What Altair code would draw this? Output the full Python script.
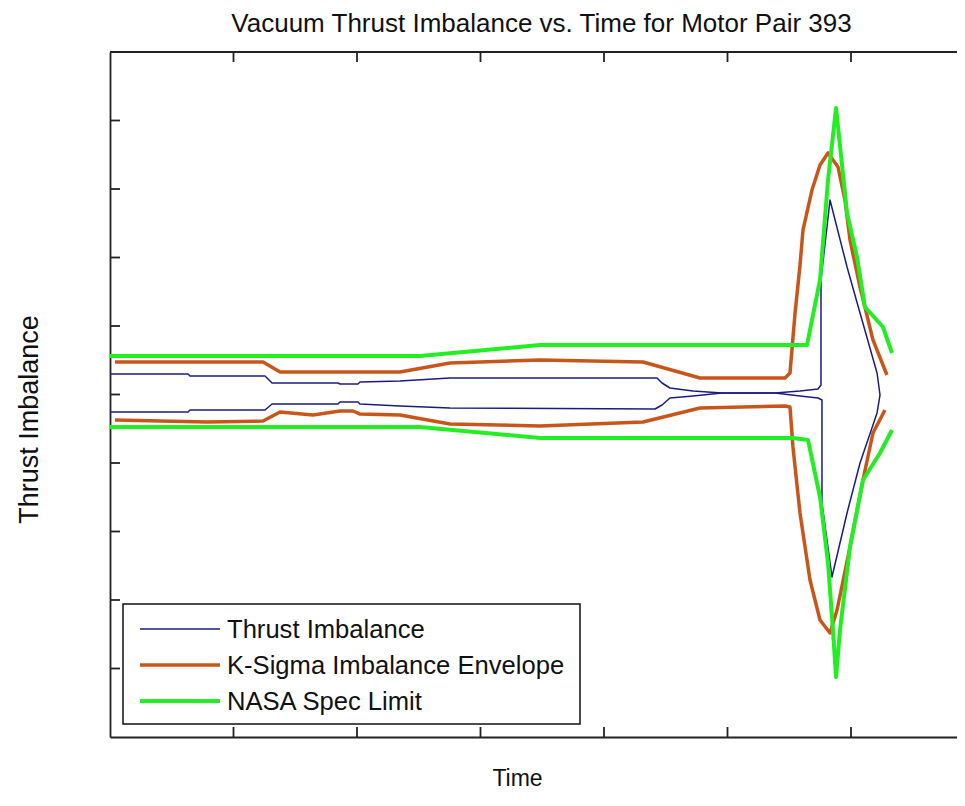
import altair as alt
import pandas as pd

TITLE = "Vacuum Thrust Imbalance vs. Time for Motor Pair 393"
X_TITLE = "Time"
Y_TITLE = "Thrust Imbalance"
LEGEND_LABELS = ["Thrust Imbalance", "K-Sigma Imbalance Envelope", "NASA Spec Limit"]

X_TICKS = [1, 2, 3, 4, 5, 6]
Y_TICKS = [-4, -3, -2, -1, 0, 1, 2, 3, 4]

# Thrust imbalance (upper / lower trace)
blue_up_t = [0, 0.632, 0.648, 1.255, 1.312, 1.846, 1.862, 2.008, 2.024, 2.348, 2.753, 4.429, 4.470,
             4.534, 4.721, 4.955, 5.385, 5.587, 5.733, 5.757, 5.757, 5.830, 5.968, 6.073, 6.211, 6.235]
blue_up_v = [0.299, 0.299, 0.270, 0.270, 0.168, 0.168, 0.153, 0.153, 0.182, 0.197, 0.241, 0.241, 0.168,
             0.095, 0.051, 0.022, 0.022, 0.051, 0.080, 0.139, 1.672, 2.839, 1.861, 1.190, 0.314, -0.007]
blue_lo_t = [0, 0.632, 0.648, 1.255, 1.312, 1.846, 1.862, 2.008, 2.024, 2.348, 2.753, 4.413, 4.470,
             4.534, 4.721, 4.955, 5.385, 5.587, 5.733, 5.765, 5.765, 5.846, 5.968, 6.073, 6.211, 6.235]
blue_lo_v = [-0.255, -0.255, -0.226, -0.226, -0.139, -0.139, -0.109, -0.109, -0.139, -0.168, -0.197, -0.212, -0.153,
             -0.051, -0.022, 0.022, 0.022, -0.022, -0.051, -0.080, -1.584, -2.664, -1.730, -1.000, -0.270, -0.007]

# K-sigma imbalance envelope
orange_up_t = [0.040, 1.239, 1.377, 2.348, 2.753, 3.482, 4.316, 4.777, 5.466, 5.506, 5.547, 5.587, 5.611,
               5.684, 5.749, 5.814, 5.895, 5.951, 5.992, 6.073, 6.178, 6.291]
orange_up_v = [0.474, 0.474, 0.328, 0.328, 0.460, 0.504, 0.474, 0.241, 0.241, 0.314, 1.190, 1.883, 2.401,
               2.985, 3.350, 3.526, 3.321, 2.839, 2.255, 1.569, 0.796, 0.285]
orange_lo_t = [0.040, 0.785, 1.239, 1.377, 1.644, 1.862, 1.968, 2.024, 2.348, 2.753, 3.482, 4.316, 4.777,
               5.466, 5.506, 5.530, 5.587, 5.668, 5.749, 5.830, 5.887, 5.992, 6.097, 6.178, 6.275]
orange_lo_v = [-0.372, -0.401, -0.387, -0.255, -0.299, -0.241, -0.241, -0.285, -0.299, -0.431, -0.460, -0.401, -0.197,
               -0.168, -0.182, -0.766, -1.730, -2.708, -3.292, -3.482, -3.146, -2.226, -1.248, -0.562, -0.226]

# NASA spec limit
green_up_t = [0, 2.510, 3.482, 5.644, 5.749, 5.814, 5.879, 5.968, 6.049, 6.113, 6.259, 6.332]
green_up_v = [0.562, 0.562, 0.723, 0.723, 1.672, 3.131, 4.182, 2.650, 2.007, 1.277, 0.985, 0.606]
green_lo_t = [0, 2.510, 3.482, 5.530, 5.652, 5.749, 5.814, 5.854, 5.879, 5.911, 5.992, 6.097, 6.235, 6.332]
green_lo_v = [-0.474, -0.474, -0.635, -0.635, -0.664, -1.496, -2.460, -3.438, -4.124, -3.438, -2.226, -1.248, -0.854, -0.518]

BLUE = "#1c1c80"
ORANGE = "#c8561a"
GREEN = "#22ee22"
FONT = "Liberation Sans"
INK = "#222222"
TXT = "#111111"

W, H = 847, 685


def frame(t, v, name):
    return pd.DataFrame({"t": t, "v": v, "trace": name, "i": list(range(len(t)))})


xs = alt.Scale(domain=[0, W / 123.5], nice=False, zero=False)
ys = alt.Scale(domain=[-5, 5], nice=False, zero=False)

x_axis = alt.Axis(labels=False, ticks=False, grid=False, domain=True, domainColor=INK,
                  domainWidth=1.8, title=X_TITLE, titleX=407, titleY=48,
                  titleBaseline="alphabetic", titleAlign="center",
                  titleFont=FONT, titleFontSize=23, titleFontWeight="normal", titleColor=TXT)
y_axis = alt.Axis(labels=False, ticks=False, grid=False, domain=True, domainColor=INK,
                  domainWidth=1.8, title=Y_TITLE, titleX=-73, titleY=367,
                  titleBaseline="alphabetic", titleAlign="center", titleAngle=270,
                  titleFont=FONT, titleFontSize=27, titleFontWeight="normal", titleColor=TXT)

X = alt.X("t:Q", scale=xs, axis=x_axis)
Y = alt.Y("v:Q", scale=ys, axis=y_axis)


def line_layer(df, color, width):
    return alt.Chart(df).mark_line(color=color, strokeWidth=width, strokeJoin="round").encode(
        x=X, y=Y, detail="trace:N", order=alt.Order("i:Q"))


blue_df = pd.concat([frame(blue_up_t, blue_up_v, "bu"), frame(blue_lo_t, blue_lo_v, "bl")])
orange_df = pd.concat([frame(orange_up_t, orange_up_v, "ou"), frame(orange_lo_t, orange_lo_v, "ol")])
green_df = pd.concat([frame(green_up_t, green_up_v, "gu"), frame(green_lo_t, green_lo_v, "gl")])

blue = line_layer(blue_df, BLUE, 1.5)
orange = line_layer(orange_df, ORANGE, 3.5)
green = line_layer(green_df, GREEN, 4)

xt = pd.DataFrame({"t": X_TICKS})
yt = pd.DataFrame({"v": Y_TICKS})
tick_style = dict(color=INK, strokeWidth=1.8)
bottom_ticks = alt.Chart(xt).mark_rule(**tick_style).encode(x=X, y=alt.value(H), y2=alt.value(H - 10))
top_ticks = alt.Chart(xt).mark_rule(**tick_style).encode(x=X, y=alt.value(0), y2=alt.value(10))
left_ticks = alt.Chart(yt).mark_rule(**tick_style).encode(y=Y, x=alt.value(0), x2=alt.value(10))
dummy = pd.DataFrame({"a": [0]})
top_border = alt.Chart(dummy).mark_rule(**tick_style).encode(
    x=alt.value(0), x2=alt.value(W), y=alt.value(0))

# legend
leg_box = alt.Chart(dummy).mark_rect(fill="white", stroke=TXT, strokeWidth=1.5).encode(
    x=alt.value(13), x2=alt.value(470), y=alt.value(552), y2=alt.value(672))
leg_layers = [leg_box]
for k, (lab, col, sw) in enumerate(zip(LEGEND_LABELS, [BLUE, ORANGE, GREEN], [1.5, 3.5, 4])):
    yy = 577 + 36 * k
    ldf = pd.DataFrame({"label": [lab]})
    leg_layers.append(alt.Chart(ldf).mark_rule(color=col, strokeWidth=sw).encode(
        x=alt.value(30), x2=alt.value(110), y=alt.value(yy)))
    leg_layers.append(alt.Chart(ldf).mark_text(font=FONT, fontSize=25.6, color=TXT, align="left",
                                               baseline="middle", dy=1).encode(
        x=alt.value(117), y=alt.value(yy), text="label:N"))

chart = alt.layer(blue, orange, green, bottom_ticks, top_ticks, left_ticks, top_border, *leg_layers).properties(
    width=W, height=H,
    title=alt.TitleParams(TITLE, font=FONT, fontSize=26, fontWeight="normal", color=TXT,
                          anchor="middle", offset=14, dx=8),
    autosize=alt.AutoSizeParams(type="none"),
    padding={"left": 102, "top": 44, "right": 0, "bottom": 55},
    background="white",
).configure_view(strokeWidth=0)

chart.save("out.html", embed_options={"renderer": "svg", "actions": False})
